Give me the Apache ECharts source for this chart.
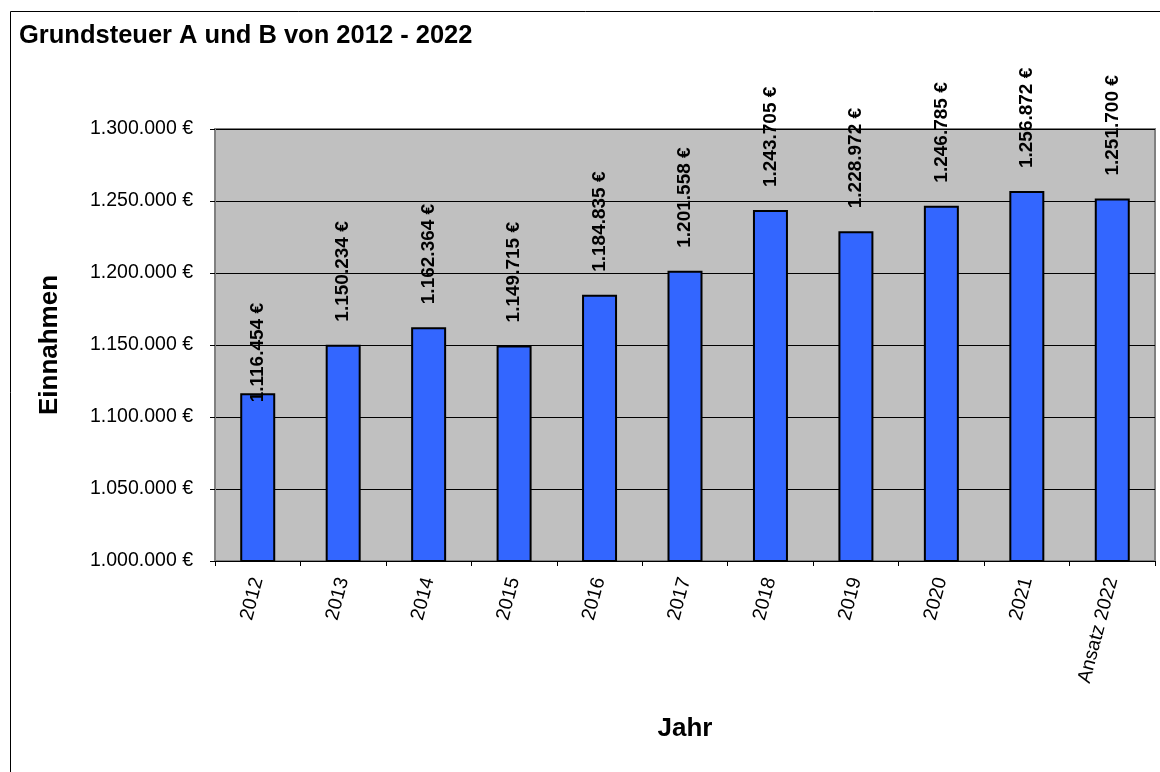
<!DOCTYPE html>
<html>
<head>
<meta charset="utf-8">
<script src="https://cdn.jsdelivr.net/npm/echarts@6/dist/echarts.min.js"></script>
<style>html,body{margin:0;padding:0;background:#fff}#c{width:1160px;height:772px}</style>
</head>
<body>
<div id="c"></div>
<script>
const categories = ['2012','2013','2014','2015','2016','2017','2018','2019','2020','2021','Ansatz 2022'];
const values = [1116454, 1150234, 1162364, 1149715, 1184835, 1201558, 1243705, 1228972, 1246785, 1256872, 1251700];
const titleText = 'Grundsteuer A und B von 2012 - 2022';
const yName = 'Einnahmen';
const xName = 'Jahr';
const yMin = 1000000, yMax = 1300000, yStep = 50000;

const FONT = '"Liberation Sans", Arial, sans-serif';
function fmt(v){ return String(Math.round(v)).replace(/\B(?=(\d{3})+(?!\d))/g, '.') + ' €'; }

const chart = echarts.init(document.getElementById('c'), null, {renderer:'canvas'});
chart.setOption({
  backgroundColor: '#ffffff',
  animation: false,
  title: {
    text: titleText, left: 14, top: 18,
    textStyle: {fontFamily: FONT, fontSize: 25.5, fontWeight: 'bold', color: '#000'}
  },
  graphic: [{
    type: 'rect', silent: true, z: -1,
    shape: {x: 10.5, y: 11.5, width: 1300, height: 900},
    style: {fill: 'none', stroke: '#000', lineWidth: 1}
  }],
  grid: {
    left: 215, right: 5, top: 129, bottom: 211,
    show: true, backgroundColor: '#C0C0C0', borderColor: '#808080', borderWidth: 2
  },
  xAxis: {
    type: 'category', data: categories,
    name: xName, nameLocation: 'middle', nameGap: 155,
    nameTextStyle: {fontFamily: FONT, fontSize: 26, fontWeight: 'bold', color: '#000'},
    axisLine: {lineStyle: {color: '#000', width: 1}},
    axisTick: {show: true, length: 5, alignWithLabel: false, lineStyle: {color: '#000'}},
    axisLabel: {interval: 0, rotate: 75, margin: 17, fontFamily: FONT, fontSize: 19.5, color: '#000'},
    splitLine: {show: false}
  },
  yAxis: {
    type: 'value', min: yMin, max: yMax, interval: yStep,
    name: yName, nameLocation: 'middle', nameGap: 152, nameRotate: 90,
    nameTextStyle: {fontFamily: FONT, fontSize: 26, fontWeight: 'bold', color: '#000'},
    axisLine: {show: true, lineStyle: {color: '#808080', width: 2}},
    axisTick: {show: true, length: 5, lineStyle: {color: '#000'}},
    axisLabel: {margin: 22, fontFamily: FONT, fontSize: 19.5, color: '#000', formatter: fmt},
    splitLine: {show: true, lineStyle: {color: '#000', width: 1}}
  },
  series: [{
    type: 'bar',
    barWidth: 35,
    data: values.map((v, i) => i === 0 ? {value: v, label: {distance: -9}} : v),
    itemStyle: {color: '#3366FF', borderColor: '#000', borderWidth: 2},
    label: {
      show: true, position: 'top', distance: 23, rotate: 90,
      align: 'left', verticalAlign: 'middle',
      fontFamily: FONT, fontSize: 19, fontWeight: 'bold', color: '#000',
      formatter: p => fmt(p.value)
    }
  }]
});
</script>
</body>
</html>
